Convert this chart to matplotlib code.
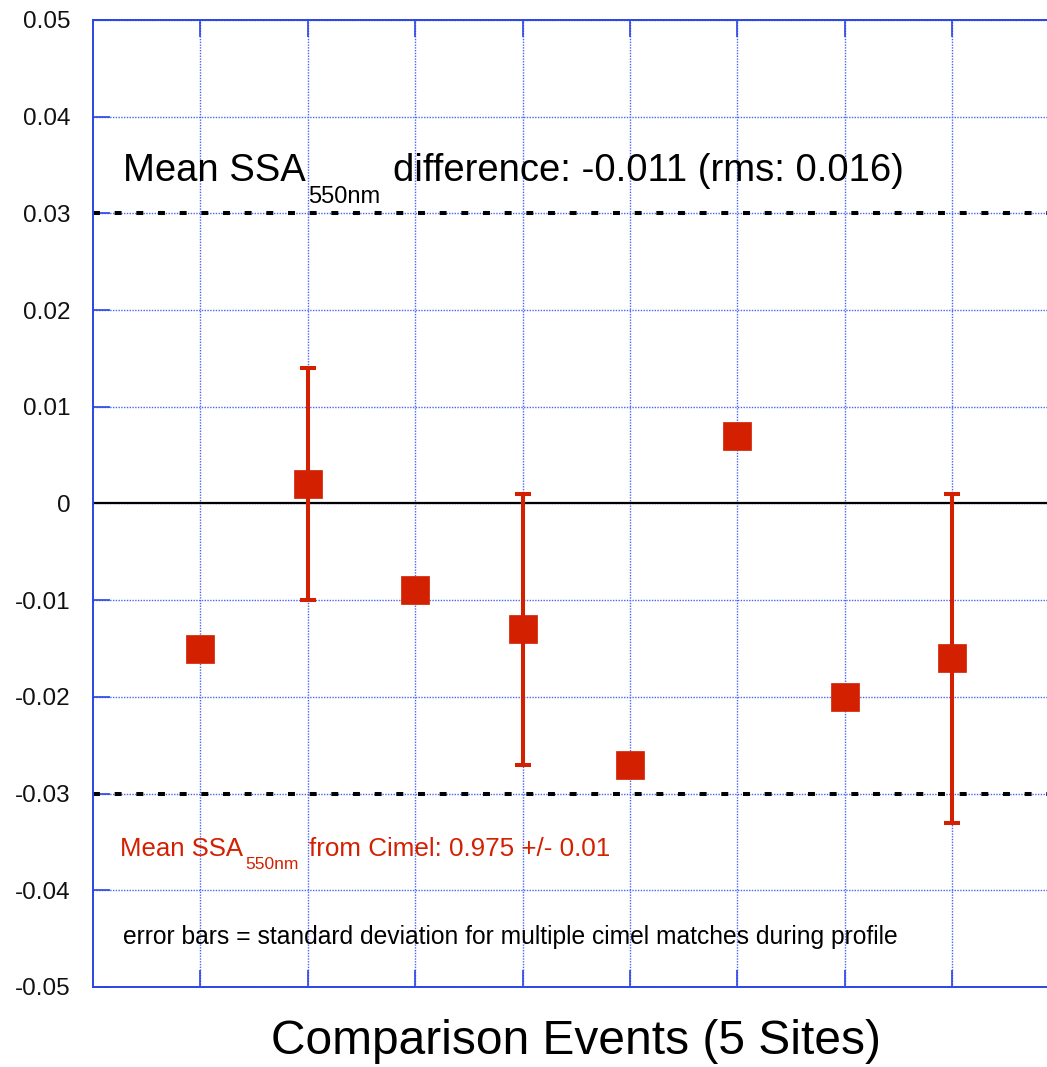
import numpy as np
import matplotlib
matplotlib.use("Agg")
import matplotlib.pyplot as plt

plt.rcParams['font.family'] = ['Liberation Sans', 'DejaVu Sans']
plt.rcParams['lines.scale_dashes'] = False

# comparison events (x) and SSA differences
events = [1, 2, 3, 4, 5, 6, 7, 8]
ssa_diff = [-0.015, 0.002, -0.009, -0.013, -0.027, 0.007, -0.020, -0.016]
ssa_std = [0.0, 0.012, 0.0, 0.014, 0.0, 0.0, 0.0, 0.017]

y_ticks = [-0.05, -0.04, -0.03, -0.02, -0.01, 0.0, 0.01, 0.02, 0.03, 0.04, 0.05]
y_tick_labels = ['-0.05', '-0.04', '-0.03', '-0.02', '-0.01', '0',
                 '0.01', '0.02', '0.03', '0.04', '0.05']
limit_lines = [-0.03, 0.03]

RED = '#d32000'
BLUE = '#2a45e6'

fig = plt.figure(figsize=(10.47, 10.67), dpi=100)
ax = fig.add_axes([0.0888, 0.075, 0.9233, 0.9063])

ax.set_xlim(0, 9)
ax.set_ylim(-0.05, 0.05)

# grid
ax.set_xticks(events)
ax.set_xticklabels([])
ax.set_yticks(y_ticks)
ax.set_yticklabels(y_tick_labels, fontsize=17.5)
ax.grid(True, color='#4a66f0', linestyle=(0, (1, 1)), linewidth=1.0)
ax.set_axisbelow(True)
ax.tick_params(axis='both', direction='in', length=12, width=1.2, color=BLUE,
               top=True, right=False, pad=16)
ax.tick_params(axis='y', labelcolor='#111111')
for side in ['left', 'bottom', 'top']:
    ax.spines[side].set_color(BLUE)
    ax.spines[side].set_linewidth(1.4)
ax.spines['right'].set_visible(False)

# zero line and +/-0.03 limits
ax.axhline(0, color='black', linewidth=1.6, zorder=2)
for yl in limit_lines:
    ax.axhline(yl, color='black', linewidth=2.9, dashes=(5, 10.6), zorder=2)

# data with error bars (only where std > 0)
err = np.array(ssa_std)
ax.errorbar(events, ssa_diff, yerr=np.where(err > 0, err, np.nan), fmt='none',
            ecolor=RED, elinewidth=2.9, capsize=5.8, capthick=2.9, zorder=3)
ax.plot(events, ssa_diff, linestyle='none', marker='s', markersize=20,
        color=RED, markeredgecolor=RED, markeredgewidth=0.5, zorder=4)

# annotation: mean difference
t1 = ax.text(0.279, 0.03335, 'Mean SSA', fontsize=27.5, va='baseline', ha='left')
s1 = ax.annotate('550nm', xy=(1, 0), xycoords=t1, xytext=(2, -10),
                 textcoords='offset points', fontsize=17, va='baseline', ha='left')
ax.annotate('difference: -0.011 (rms: 0.016)', xy=(1, 0), xycoords=(s1, t1),
            xytext=(9, 0), textcoords='offset points', fontsize=27.5,
            va='bottom', ha='left')

# annotation: cimel mean
t2 = ax.text(0.251, -0.03645, 'Mean SSA', fontsize=18.5, color=RED,
             va='baseline', ha='left')
s2 = ax.annotate('550nm', xy=(1, 0), xycoords=t2, xytext=(2, -6),
                 textcoords='offset points', fontsize=12.5, color=RED,
                 va='baseline', ha='left')
ax.annotate('from Cimel: 0.975 +/- 0.01', xy=(1, 0), xycoords=(s2, t2),
            xytext=(7, 0), textcoords='offset points', fontsize=18.7,
            color=RED, va='bottom', ha='left')

ax.text(0.279, -0.04555,
        'error bars = standard deviation for multiple cimel matches during profile',
        fontsize=17.75, va='baseline', ha='left')

ax.set_xlabel('Comparison Events (5 Sites)', fontsize=34.5, labelpad=7)

fig.savefig('out.png', dpi=100)
